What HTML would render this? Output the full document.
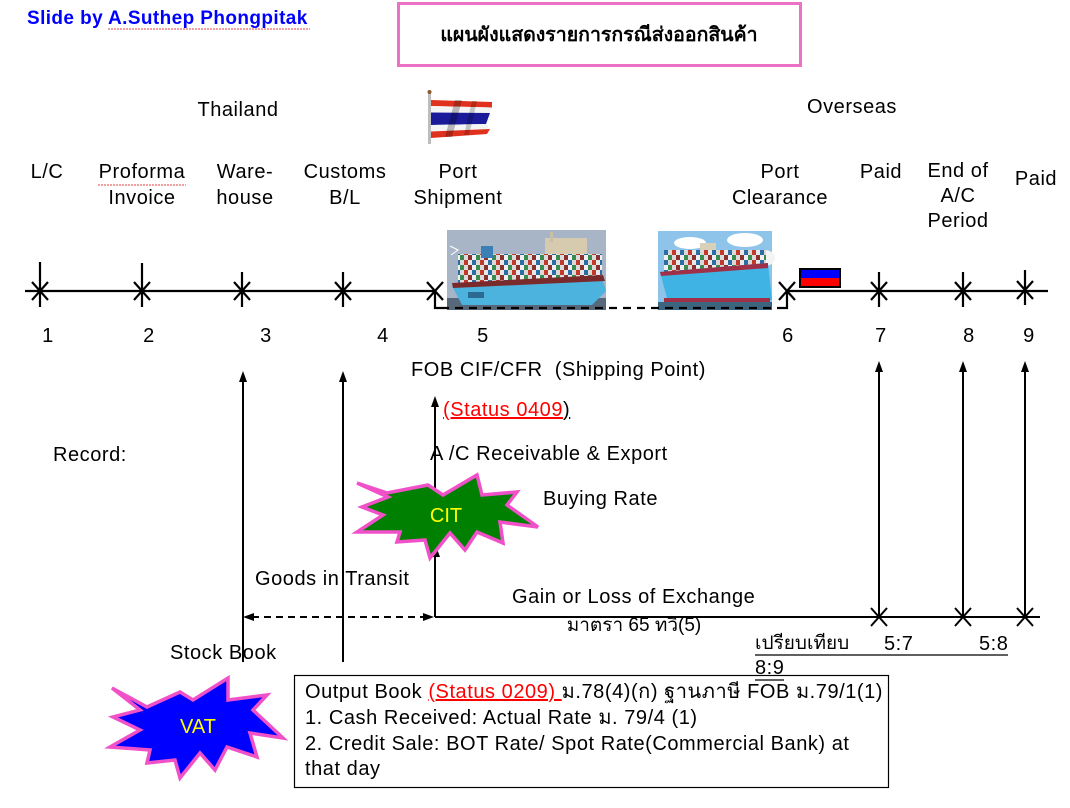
<!DOCTYPE html>
<html><head><meta charset="utf-8">
<style>
html,body{margin:0;padding:0;background:#fff;}
#c{position:relative;width:1070px;height:808px;overflow:hidden;background:#fff;font-family:"Liberation Sans",Arial,sans-serif;color:#000;}
.t{position:absolute;font-size:20px;line-height:26px;letter-spacing:0.55px;white-space:nowrap;}
.cc{text-align:center;}
.red{color:#ff0000;text-decoration:underline;text-decoration-color:#ff0000;}
</style></head><body><div id="c">
<svg width="1070" height="808" style="position:absolute;left:0;top:0" xmlns="http://www.w3.org/2000/svg">
<defs>
<pattern id="cont" width="16" height="10" patternUnits="userSpaceOnUse">
<rect width="16" height="10" fill="#9a9aa0"/>
<rect x="0" y="0" width="4" height="5" fill="#c0392b"/>
<rect x="4" y="0" width="4" height="5" fill="#e8e8e8"/>
<rect x="8" y="0" width="4" height="5" fill="#2e6da4"/>
<rect x="12" y="0" width="4" height="5" fill="#d9d9d9"/>
<rect x="0" y="5" width="4" height="5" fill="#dcdcdc"/>
<rect x="4" y="5" width="4" height="5" fill="#8a3030"/>
<rect x="8" y="5" width="4" height="5" fill="#f0f0f0"/>
<rect x="12" y="5" width="4" height="5" fill="#3a8a50"/>
</pattern>
</defs>

<!-- pink title box -->
<rect x="398.5" y="3.5" width="402" height="62" fill="none" stroke="#ec70c4" stroke-width="3"/>

<!-- spellcheck squiggles -->
<path d="M108 29 L310 29" stroke="#e04040" stroke-width="1" stroke-dasharray="2 1"/>
<path d="M98 185 L186 185" stroke="#e04040" stroke-width="1" stroke-dasharray="2 1"/>

<!-- Thai flag -->
<rect x="428" y="92" width="3" height="52" fill="#bdbdbd"/>
<circle cx="429.5" cy="92" r="2" fill="#8b5a2b"/>
<polygon points="431,100 492,102 492,107.5 431,106" fill="#e0301e"/>
<polygon points="431,106 492,107.5 490,113 431,112.5" fill="#f4f4f4"/>
<polygon points="431,112.5 490,113 486,124 431,125" fill="#1a1a9a"/>
<polygon points="431,125 486,124 490,129 431,131.5" fill="#f4f4f4"/>
<polygon points="431,131.5 490,129 487,134 431,138" fill="#e0301e"/>
<polygon points="455,100 462,100 452,137 445,137" fill="#000" opacity="0.25"/>
<polygon points="472,101 477,101 469,135 464,135" fill="#000" opacity="0.2"/>

<!-- Ship 1 -->
<rect x="447" y="230" width="159" height="80" fill="#a7b5c6"/>
<rect x="447" y="298" width="159" height="12" fill="#56687a"/>
<rect x="545" y="238" width="42" height="22" fill="#d6cbae"/>
<rect x="550" y="232" width="3" height="10" fill="#c8bfa6"/>
<rect x="458" y="254" width="144" height="32" fill="url(#cont)"/>
<rect x="481" y="246" width="12" height="12" fill="#3b7fb5"/>
<polygon points="452,286 602,278 606,291 592,305 462,305" fill="#4cb2de"/>
<polygon points="452,283 603,275 605,281 453,288" fill="#7a2a2a"/>
<rect x="468" y="292" width="16" height="6" fill="#2a6a90"/>
<path d="M450 246 L458 250 L451 255" stroke="#fff" stroke-width="1" fill="none"/>

<!-- Ship 2 -->
<rect x="658" y="231" width="114" height="79" fill="#8ec3ea"/>
<ellipse cx="690" cy="243" rx="16" ry="6" fill="#fff"/>
<ellipse cx="745" cy="240" rx="18" ry="7" fill="#fff"/>
<ellipse cx="765" cy="258" rx="10" ry="8" fill="#f4f4f4"/>
<rect x="700" y="243" width="16" height="12" fill="#d8d0b8"/>
<rect x="664" y="250" width="102" height="28" fill="url(#cont)"/>
<polygon points="660,272 768,263 772,300 668,302" fill="#3fb4e4"/>
<polygon points="660,272 768,263 768,268 661,276" fill="#a03048"/>
<rect x="664" y="298" width="106" height="4" fill="#a03048"/>
<rect x="658" y="302" width="114" height="8" fill="#3c6680"/>

<!-- timeline -->
<g stroke="#000" stroke-width="2.2" fill="none">
<path d="M25 291 H435"/>
<path d="M787 291 H1048"/>
<path d="M32 282 L48 300 M48 282 L32 300 M40 262 V307"/>
<path d="M134 282 L150 300 M150 282 L134 300 M142 263 V307"/>
<path d="M234 282 L250 300 M250 282 L234 300 M242 272 V307"/>
<path d="M335 282 L351 300 M351 282 L335 300 M343 272 V307"/>
<path d="M427 282 L443 300 M443 282 L427 300 M435 291 V308 H441"/>
<path d="M779 282 L795 300 M795 282 L779 300 M787 291 V308 H781"/>
<path d="M871 282 L887 300 M887 282 L871 300 M879 272 V307"/>
<path d="M955 282 L971 300 M971 282 L955 300 M963 272 V307"/>
<path d="M1017 281 L1033 299 M1033 281 L1017 299 M1025 270 V305"/>
<path d="M441 308 H781" stroke-dasharray="8 6"/>
</g>
<!-- small flag -->
<rect x="801" y="270" width="38" height="8" fill="#0000ff"/>
<rect x="801" y="278" width="38" height="8" fill="#ff0000"/>
<rect x="800" y="269" width="40" height="18" fill="none" stroke="#000" stroke-width="2"/>

<!-- arrows -->
<g stroke="#000" stroke-width="2" fill="none">
<path d="M243 662 V380"/>
<path d="M343 662 V380"/>
<path d="M435 617 V405"/>
<path d="M435 617 H1040"/>
<path d="M252 617 H426" stroke-dasharray="7 5"/>
<path d="M879 617 V370"/>
<path d="M963 617 V370"/>
<path d="M1025 617 V370"/>
<path d="M871 608 L887 626 M887 608 L871 626"/>
<path d="M955 608 L971 626 M971 608 L955 626"/>
<path d="M1017 608 L1033 626 M1033 608 L1017 626"/>
</g>
<g fill="#000">
<polygon points="243,371 239,382 247,382"/>
<polygon points="343,371 339,382 347,382"/>
<polygon points="435,396 431,407 439,407"/>
<polygon points="436,546 432,557 440,557"/>
<polygon points="879,361 875,372 883,372"/>
<polygon points="963,361 959,372 967,372"/>
<polygon points="1025,361 1021,372 1029,372"/>
<polygon points="243,617 254,613 254,621"/>
<polygon points="434,617 423,613 423,621"/>
</g>

<!-- CIT star -->
<polygon points="357,483 387,493 428,485 443,495 477,475 482,495 517,492 507,505 538,527 500,522 503,543 477,532 465,550 450,533 430,558 425,540 397,542 400,532 357,532 383,515 362,507 388,497" fill="#008000" stroke="#f050c8" stroke-width="3.5" stroke-linejoin="miter"/>
<text x="446" y="522" font-family="Liberation Sans, Arial, sans-serif" font-size="20" fill="#ffff00" text-anchor="middle">CIT</text>

<!-- VAT star -->
<polygon points="112,688 147,707 180,692 193,700 228,678 228,700 267,695 253,710 283,738 250,733 257,757 227,747 215,770 200,753 180,778 175,760 147,763 150,750 110,747 140,730 113,717 140,710" fill="#0000ff" stroke="#f050c8" stroke-width="3.5"/>
<text x="198" y="733" font-family="Liberation Sans, Arial, sans-serif" font-size="20" fill="#ffff00" text-anchor="middle">VAT</text>

<!-- output box -->
<rect x="294.5" y="675.5" width="594" height="112" fill="#fff" stroke="#000" stroke-width="1.2"/>
<!-- underlines for comparison -->
<path d="M755 655 H1008" stroke="#000" stroke-width="1.3"/>
<path d="M755 680 H784" stroke="#000" stroke-width="1.3"/>
</svg>

<div class="t" style="left:27px;top:6px;font-size:19px;font-weight:bold;color:#0000ff;letter-spacing:0.4px;">Slide by A.Suthep Phongpitak</div>
<div class="t cc" style="left:400px;width:398px;top:20px;font-size:19.5px;font-weight:bold;line-height:30px;letter-spacing:0;">แผนผังแสดงรายการกรณีส่งออกสินค้า</div>

<div class="t cc" style="left:138px;width:200px;top:97px;">Thailand</div>
<div class="t cc" style="left:752px;width:200px;top:94px;">Overseas</div>

<div class="t cc" style="left:-3px;width:100px;top:159px;">L/C</div>
<div class="t cc" style="left:82px;width:120px;top:159px;">Proforma<br>Invoice</div>
<div class="t cc" style="left:185px;width:120px;top:159px;">Ware-<br>house</div>
<div class="t cc" style="left:285px;width:120px;top:159px;">Customs<br>B/L</div>
<div class="t cc" style="left:388px;width:140px;top:159px;">Port<br>Shipment</div>
<div class="t cc" style="left:710px;width:140px;top:159px;">Port<br>Clearance</div>
<div class="t cc" style="left:831px;width:100px;top:159px;">Paid</div>
<div class="t cc" style="left:898px;width:120px;top:159px;line-height:25px;">End of<br>A/C<br>Period</div>
<div class="t cc" style="left:996px;width:80px;top:166px;">Paid</div>

<div class="t cc" style="left:-2px;width:100px;top:323px;">1</div>
<div class="t cc" style="left:99px;width:100px;top:323px;">2</div>
<div class="t cc" style="left:216px;width:100px;top:323px;">3</div>
<div class="t cc" style="left:333px;width:100px;top:323px;">4</div>
<div class="t cc" style="left:433px;width:100px;top:323px;">5</div>
<div class="t cc" style="left:738px;width:100px;top:323px;">6</div>
<div class="t cc" style="left:831px;width:100px;top:323px;">7</div>
<div class="t cc" style="left:919px;width:100px;top:323px;">8</div>
<div class="t cc" style="left:979px;width:100px;top:323px;">9</div>

<div class="t" style="left:411px;top:357px;">FOB CIF/CFR&nbsp; (Shipping Point)</div>
<div class="t" style="left:443px;top:397px;"><span class="red">(Status 0409</span><span style="text-decoration:underline;">)</span></div>
<div class="t" style="left:53px;top:442px;">Record:</div>
<div class="t" style="left:430px;top:441px;">A /C Receivable &amp; Export</div>
<div class="t" style="left:543px;top:486px;">Buying Rate</div>
<div class="t" style="left:255px;top:566px;">Goods in Transit</div>
<div class="t" style="left:512px;top:584px;">Gain or Loss of Exchange</div>
<div class="t cc" style="left:534px;width:200px;top:613px;font-size:19px;letter-spacing:0;">มาตรา 65 ทวิ(5)</div>
<div class="t" style="left:170px;top:640px;">Stock Book</div>

<div class="t" style="left:755px;top:631px;font-size:19px;letter-spacing:0;">เปรียบเทียบ</div>
<div class="t" style="left:884px;top:631px;">5:7</div>
<div class="t" style="left:979px;top:631px;">5:8</div>
<div class="t" style="left:755px;top:655px;">8:9</div>

<div class="t" style="left:305px;top:679px;">Output Book <span class="red">(Status 0209) </span>ม.78(4)(ก) ฐานภาษี FOB ม.79/1(1)</div>
<div class="t" style="left:305px;top:705px;">1. Cash Received: Actual Rate ม. 79/4 (1)</div>
<div class="t" style="left:305px;top:731px;">2. Credit Sale: BOT Rate/ Spot Rate(Commercial Bank) at</div>
<div class="t" style="left:305px;top:756px;">that day</div>
</div></body></html>
